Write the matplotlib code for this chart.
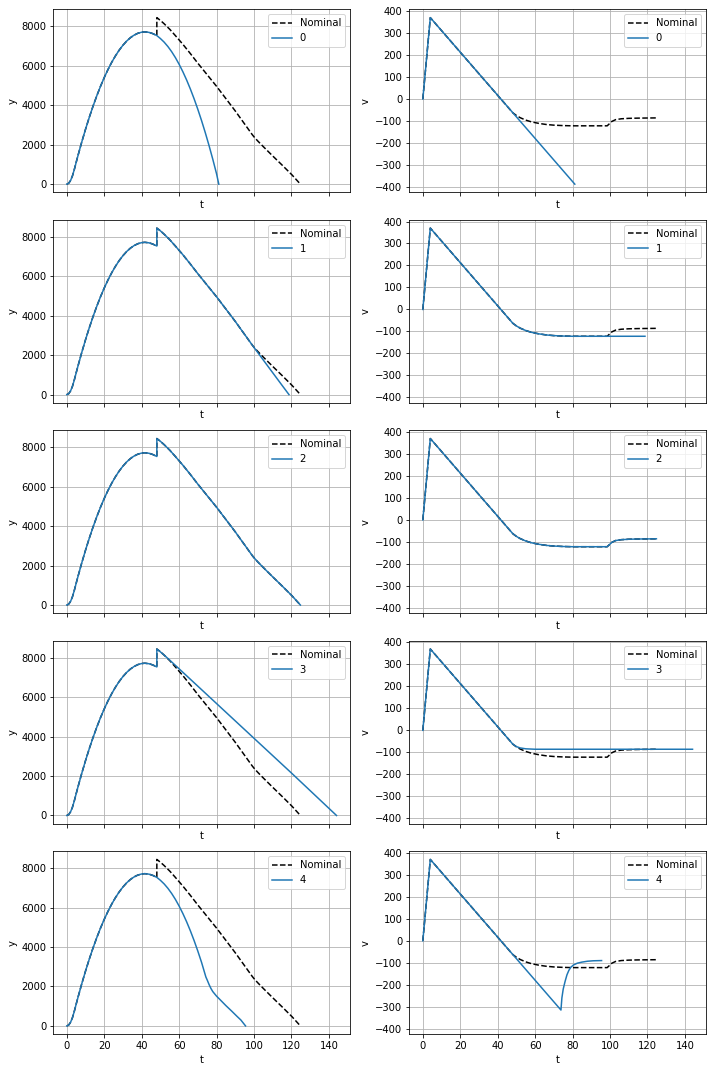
import matplotlib
matplotlib.use("Agg")
import matplotlib.pyplot as plt
import numpy as np

# --- ascent (common to every run) ---
t_asc = [0, 1, 2, 3, 4, 5, 6, 8, 10, 12, 14, 16, 18, 20, 22, 24, 26, 28,
         30, 32, 34, 36, 38, 40, 41.7, 44, 46, 48.1]
y_asc = [0, 46, 185, 416, 740, 1105, 1460, 2142, 2783, 3386, 3949, 4474,
         4959, 5404, 5811, 6178, 6506, 6795, 7044, 7255, 7426, 7557, 7650,
         7703, 7719, 7692, 7628, 7530]

# ballistic fall without chute (runs 0 and 4)
t_fall = [50, 52, 54, 56, 58, 60, 62, 64, 66, 68, 70, 72, 74, 76, 78, 80, 81.2]
y_fall = [7382, 7199, 6977, 6717, 6417, 6077, 5699, 5282, 4825, 4329, 3793,
          3219, 2605, 1952, 1259, 527, 0]

# nominal descent after the jump
t_nom_d = [48.1, 50, 52, 55, 58, 62, 66, 70, 80, 90, 99, 100, 102, 105, 110,
           115, 120.3, 124.8]
y_nom_d = [8440, 8300, 8130, 7850, 7530, 7090, 6620, 6130, 4960, 3710, 2520,
           2400, 2190, 1900, 1430, 970, 470, 0]
t_nom_v = [48.1, 50, 52, 55, 58, 62, 66, 70, 75, 80, 98.5, 99.5, 101, 103,
           106, 110, 115, 124.8]
v_nom_d = [-63, -75, -85, -96, -104, -111, -116, -119, -121, -122, -122, -114,
           -102, -94, -90, -88, -87, -86]

# run 1: main chute only
t_r1 = [105, 110, 115, 118.7]
y_r1 = [1750, 1110, 470, 0]
v_r1_end = 118.7

# run 3: second chute only
t_r3 = [48.1, 50, 52, 55, 60, 80, 100, 120, 144.1]
y_r3 = [8440, 8293, 8130, 7873, 7435, 5675, 3915, 2155, 0]
v_r3 = [-63, -74, -80, -84, -86, -86, -86, -86, -86]

# run 4: late chute
t_r4 = [74.3, 75, 76, 77, 78, 80, 82, 85, 88, 91, 93, 95.5]
y_r4 = [2480, 2330, 2100, 1900, 1740, 1510, 1320, 1030, 760, 480, 300, 0]
t_r4v = [73.8, 74.3, 75, 76, 77, 78, 79, 80.5, 82.5, 85, 88, 91, 95.5]
v_r4 = [-315, -260, -220, -185, -155, -135, -121, -110, -102, -97, -93, -91,
        -90]

# velocity ramp during the burn
t_burn = [0, 4]
v_burn = [0, 370]
g_slope = 9.81


def v_line(t):
    return 370 - g_slope * (np.asarray(t) - 4)


# nominal
t_nom = t_asc + t_nom_d
y_nom = y_asc + y_nom_d
tv_nom = t_burn + t_nom_v
vv_nom = v_burn + v_nom_d

runs = {}
# 0: no chute
t0 = t_asc + t_fall
runs[0] = (t0, y_asc + y_fall, t_burn + [81.2], v_burn + [float(v_line(81.2))])
# 1
i99 = t_nom_d.index(99)
i985 = t_nom_v.index(98.5)
runs[1] = (t_asc + t_nom_d[:i99 + 1] + t_r1, y_asc + y_nom_d[:i99 + 1] + y_r1,
           t_burn + t_nom_v[:i985 + 1] + [v_r1_end],
           v_burn + v_nom_d[:i985 + 1] + [-122])
# 2: nominal
runs[2] = (t_nom, y_nom, tv_nom, vv_nom)
# 3
runs[3] = (t_asc + t_r3, y_asc + y_r3, t_burn + t_r3, v_burn + v_r3)
# 4
t4 = t_asc + [t for t in t_fall if t < 74] + t_r4
y4 = y_asc + [y for t, y in zip(t_fall, y_fall) if t < 74] + y_r4
runs[4] = (t4, y4, t_burn + t_r4v, v_burn + v_r4)

fig, axes = plt.subplots(5, 2, sharex=True, sharey='col',
                         figsize=(712 / 72, 1072 / 72), dpi=72)
fig.subplots_adjust(left=0.0749, right=0.9916, top=0.9913, bottom=0.0352,
                    wspace=0.2, hspace=0.149)

for i in range(5):
    ty, yy, tv, vv = runs[i]
    ax = axes[i, 0]
    ax.plot(t_nom, y_nom, 'k--', label='Nominal')
    ax.plot(ty, yy, color='C0', label=str(i))
    ax.set_xlabel('t')
    ax.set_ylabel('y')
    ax.grid(True)
    ax.legend(loc='upper right')

    ax = axes[i, 1]
    ax.plot(tv_nom, vv_nom, 'k--', label='Nominal')
    ax.plot(tv, vv, color='C0', label=str(i))
    ax.set_xlabel('t')
    ax.set_ylabel('v')
    ax.grid(True)
    ax.legend(loc='upper right')

axes[0, 0].set_xticks(np.arange(0, 141, 20))
axes[0, 0].set_yticks(np.arange(0, 8001, 2000))
axes[0, 1].set_yticks(np.arange(-400, 401, 100))

fig.savefig('out.png', dpi=72)
